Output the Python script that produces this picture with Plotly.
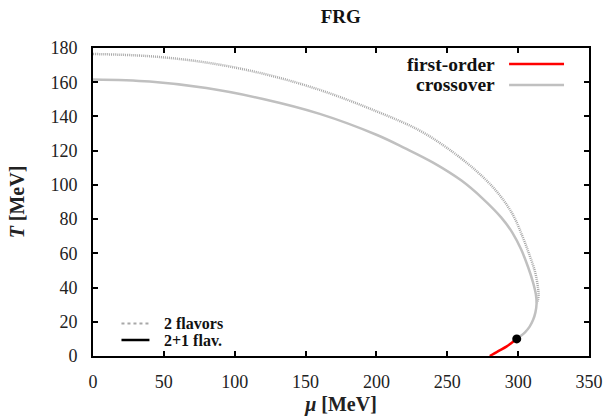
import plotly.graph_objects as go

# Crossover line, 2 flavors (dotted)
mu_2f = [0, 40, 80, 120, 160, 200, 230, 250, 270, 285, 296, 303, 308, 312, 314, 314.4, 314.0, 313.2]
T_2f = [176.5, 175.2, 171.5, 165, 155.5, 143, 132, 121.5, 108.5, 96, 83, 70, 59, 49, 40, 36, 33, 31]

# Crossover line, 2+1 flavors (solid)
mu_21 = [0, 40, 80, 120, 160, 200, 220, 240, 260, 275, 288, 296, 302, 307, 310.5, 312.5,
         313, 312.2, 310.5, 308, 305, 302, 299]
T_21 = [161.6, 160.4, 156.6, 150.2, 141.5, 129.3, 121.5, 113, 102.5, 92, 81, 72, 62.5, 52, 43,
        36, 30.5, 25.5, 21, 17, 14, 11.8, 10]

# First-order line, 2+1 flavors
mu_fo = [299, 295.5, 291.7, 286, 280]
T_fo = [10, 7.8, 5.5, 2.9, 0]

# Critical end point
mu_cep = [299]
T_cep = [10]

x_ticks = [0, 50, 100, 150, 200, 250, 300, 350]
y_ticks = [0, 20, 40, 60, 80, 100, 120, 140, 160, 180]

SERIF = "Liberation Serif, Times New Roman, serif"
GRAY = "#c0c0c0"
DOT_GRAY = "#a8a8a8"

fig = go.Figure()
fig.add_trace(go.Scatter(x=mu_2f, y=T_2f, mode="lines", line_shape="spline",
                         line=dict(color=DOT_GRAY, width=2.5, dash="1px,1px"),
                         showlegend=False))
fig.add_trace(go.Scatter(x=mu_21, y=T_21, mode="lines", line_shape="spline",
                         line=dict(color=GRAY, width=2.5), showlegend=False))
fig.add_trace(go.Scatter(x=mu_fo, y=T_fo, mode="lines", line_shape="spline",
                         line=dict(color="#ff0000", width=2.5), showlegend=False))
fig.add_trace(go.Scatter(x=mu_cep, y=T_cep, mode="markers",
                         marker=dict(color="black", size=9), showlegend=False))

axis_common = dict(showline=True, linecolor="black", linewidth=2, mirror="ticks",
                   ticks="inside", ticklen=5, tickwidth=2, tickcolor="black",
                   showgrid=False, zeroline=False, automargin=False,
                   tickfont=dict(family=SERIF, size=18, color="#222"))

fig.update_xaxes(range=[0, 350], tickvals=x_ticks, ticklabelstandoff=8,
                 title=dict(text="<b><i>μ</i> [MeV]</b>",
                            font=dict(family=SERIF, size=20, color="#222"), standoff=6),
                 **axis_common)
fig.update_yaxes(range=[0, 180], tickvals=y_ticks, ticklabelstandoff=10,
                 title=dict(text="<b><i>T</i> [MeV]</b>",
                            font=dict(family=SERIF, size=20, color="#222"), standoff=20),
                 **axis_common)

# Legend entries drawn as text plus short line samples
annotations = [
    dict(text="<b>first-order</b>", x=497, y=64, xanchor="right", size=19.5),
    dict(text="<b>crossover</b>", x=497, y=85, xanchor="right", size=19.5),
    dict(text="<b>2 flavors</b>", x=162, y=323, xanchor="left", size=16),
    dict(text="<b>2+1 flav.</b>", x=162, y=340, xanchor="left", size=16),
]
W, H = 606, 418
L, R, T, B = 92.5, 17, 48, 62
pw, ph = W - L - R, H - T - B


def px(x):
    return (x - L) / pw


def py(y):
    return (H - B - y) / ph


fig.layout.annotations = [
    dict(text=a["text"], x=px(a["x"]), y=py(a["y"]), xref="paper", yref="paper",
         xanchor=a["xanchor"], yanchor="middle", showarrow=False,
         font=dict(family=SERIF, size=a["size"], color="#111"))
    for a in annotations
]

samples = [
    (509, 564, 64, "#ff0000", 2.5, "solid"),
    (509, 564, 85, GRAY, 2.5, "solid"),
    (121, 149, 323.5, DOT_GRAY, 2, "dot"),
    (121, 149, 340, "black", 2.5, "solid"),
]
fig.layout.shapes = [
    dict(type="line", xref="paper", yref="paper", x0=px(x0), x1=px(x1), y0=py(y), y1=py(y),
         line=dict(color=c, width=w, dash=d))
    for x0, x1, y, c, w, d in samples
]

fig.update_layout(
    width=W, height=H,
    margin=dict(l=L, r=R, t=T, b=B),
    paper_bgcolor="white", plot_bgcolor="white",
    title=dict(text="<b>FRG</b>", x=(L + pw / 2) / W, xanchor="center",
               y=1 - 16 / H, yanchor="middle",
               font=dict(family=SERIF, size=19, color="#111")),
)

fig.write_html("out.html")
